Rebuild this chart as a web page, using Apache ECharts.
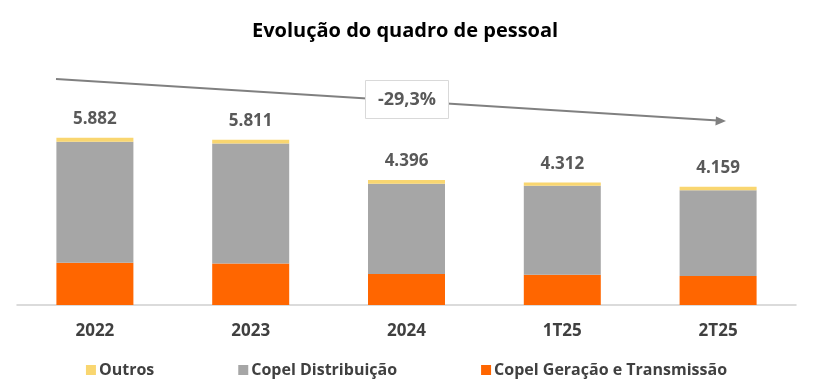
<!DOCTYPE html>
<html><head><meta charset="utf-8">
<script src="https://cdn.jsdelivr.net/npm/echarts@6/dist/echarts.min.js"></script>
<style>html,body{margin:0;padding:0;background:#fff}#c{width:813px;height:390px}</style>
</head><body><div id="c"></div>
<script>
var categories = ['2022', '2023', '2024', '1T25', '2T25'];
var geracaoTransmissao = [1482, 1461, 1090, 1068, 1022];
var distribuicao = [4259, 4220, 3176, 3127, 3017];
var outros = [141, 130, 130, 117, 120];
var totals = [5882, 5811, 4396, 4312, 4159];
var changeLabel = '-29,3%';

var FONT = 'Open Sans';
function fmt(v){ return String(v).replace(/\B(?=(\d{3})+(?!\d))/g, '.'); }

var chart = echarts.init(document.getElementById('c'));
chart.setOption({
  animation: false,
  textStyle: { fontFamily: FONT },
  title: {
    text: 'Evolução do quadro de pessoal',
    left: 247, top: 16,
    textStyle: { fontFamily: FONT, fontWeight: 'bold', fontSize: 20, color: '#000' }
  },
  legend: {
    top: 357, left: 'center',
    itemWidth: 10, itemHeight: 10, itemGap: 84,
    icon: 'rect',
    data: ['Outros', 'Copel Distribuição', 'Copel Geração e Transmissão'],
    textStyle: { fontFamily: FONT, fontWeight: 'bold', fontSize: 16, color: '#404040', padding: [0, 0, 0, -2] }
  },
  grid: { left: 17, right: 17, top: 106, bottom: 85 },
  xAxis: {
    type: 'category', data: categories,
    axisLine: { lineStyle: { color: '#d0d0d0', width: 1.5 } },
    axisTick: { show: false },
    axisLabel: { margin: 18, fontFamily: FONT, fontWeight: 'bold', fontSize: 17, color: '#404040' }
  },
  yAxis: { type: 'value', min: 0, max: 7000, show: false, splitLine: { show: false } },
  series: [
    { name: 'Copel Geração e Transmissão', type: 'bar', stack: 't', barWidth: 77,
      itemStyle: { color: '#FF6600' }, data: geracaoTransmissao },
    { name: 'Copel Distribuição', type: 'bar', stack: 't', barWidth: 77,
      itemStyle: { color: '#A6A6A6' }, data: distribuicao },
    { name: 'Outros', type: 'bar', stack: 't', barWidth: 77,
      itemStyle: { color: '#F9D670' }, data: outros,
      label: { show: true, position: 'top', distance: 10,
        formatter: function(p){ return fmt(totals[p.dataIndex]); },
        fontFamily: FONT, fontWeight: 'bold', fontSize: 17, color: '#595959' } }
  ],
  graphic: [
    { type: 'line', z: 10, shape: { x1: 56, y1: 79, x2: 718, y2: 120.6 },
      style: { stroke: '#808080', lineWidth: 2 } },
    { type: 'polygon', z: 10, shape: { points: [[726, 121.1], [716, 116.5], [715.4, 125.5]] },
      style: { fill: '#808080' } },
    { type: 'group', left: 365, top: 80, z: 100, children: [
      { type: 'rect', z: 100, shape: { x: 0, y: 0, width: 83, height: 38 },
        style: { fill: '#fff', stroke: '#d9d9d9', lineWidth: 1 } },
      { type: 'text', z: 101, x: 41.5, y: 19,
        style: { text: changeLabel, fill: '#595959', font: 'bold 18px "Open Sans"', align: 'center', verticalAlign: 'middle' } }
    ]}
  ]
});
</script></body></html>
